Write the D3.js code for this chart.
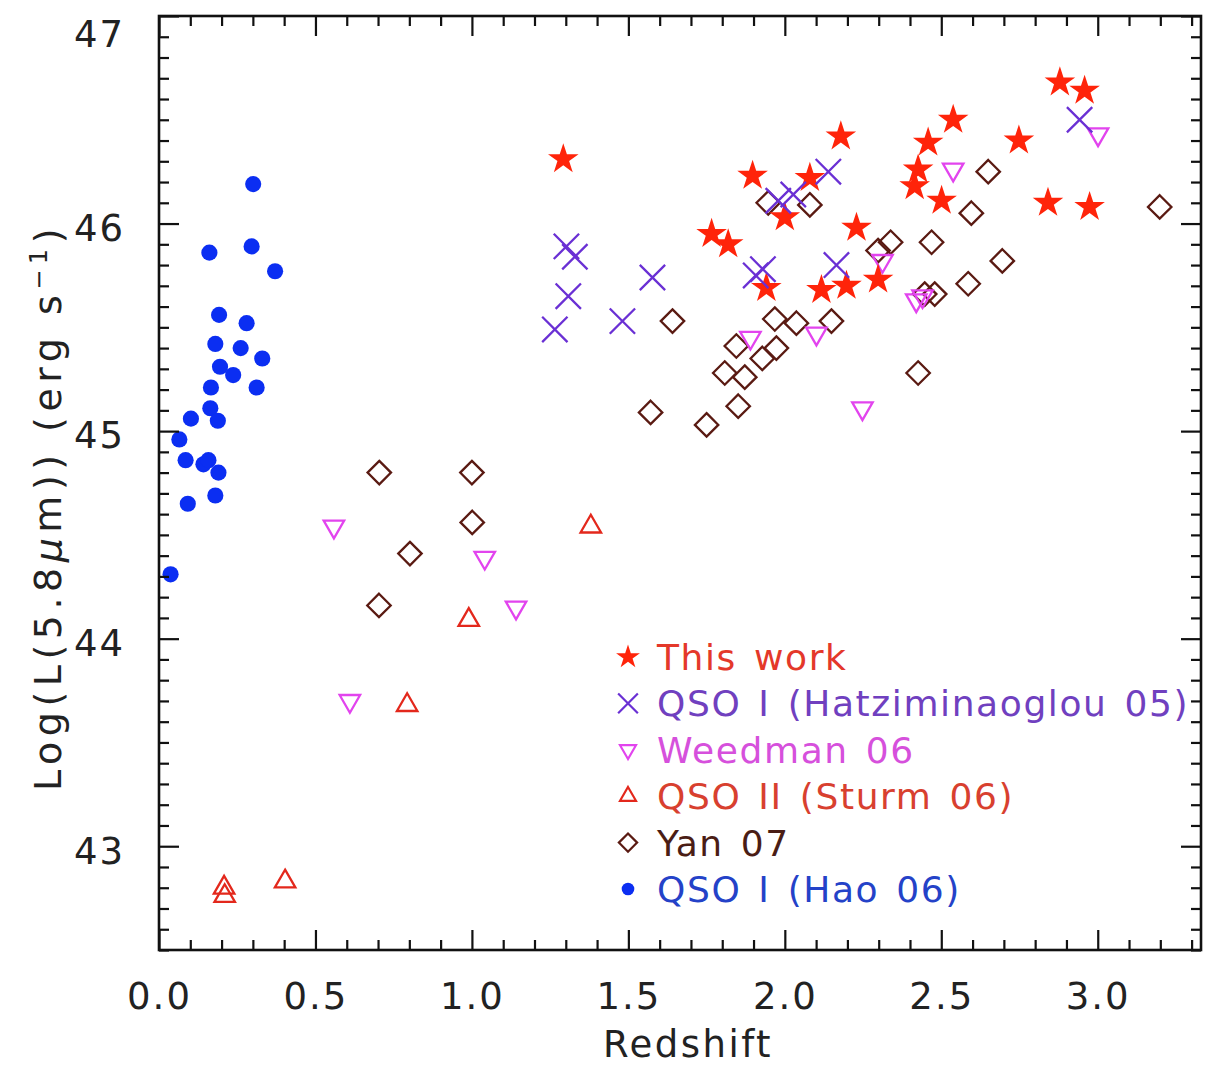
<!DOCTYPE html>
<html>
<head>
<meta charset="utf-8">
<script src="https://cdn.jsdelivr.net/npm/d3@7/dist/d3.min.js"></script>
<style>
  body { margin: 0; background: #fff; }
  text { font-family: "DejaVu Sans", sans-serif; }
</style>
</head>
<body>
<div id="chart"></div>
<script>
// [redshift, log L(5.8um)]
var thisWork = [[1.292,46.31],[1.766,45.95],[1.819,45.90],[1.897,46.23],[1.941,45.69],[2.000,46.03],
  [2.080,46.22],[2.117,45.68],[2.179,46.42],[2.197,45.70],[2.229,45.98],[2.298,45.73],[2.415,46.18],
  [2.426,46.26],[2.458,46.39],[2.501,46.11],[2.538,46.50],[2.748,46.40],[2.841,46.10],[2.879,46.68],
  [2.958,46.64],[2.974,46.08]];
var hatz05 = [[1.265,45.49],[1.302,45.89],[1.329,45.84],[1.308,45.65],[1.481,45.53],[1.577,45.74],
  [1.907,45.75],[1.930,45.78],[1.979,46.11],[2.027,46.14],[2.139,46.25],[2.165,45.80],[2.942,46.50]];
var weedman06 = [[0.559,44.54],[0.610,43.70],[1.041,44.39],[1.141,44.15],[1.890,45.45],[2.101,45.47],
  [2.248,45.11],[2.312,45.82],[2.420,45.63],[2.440,45.65],[2.538,46.26],[3.001,46.43]];
var sturm06 = [[0.208,42.80],[0.210,42.76],[0.403,42.83],[0.793,43.68],[0.990,44.09],[1.380,44.54]];
var yan07 = [[0.703,44.16],[0.704,44.80],[0.802,44.41],[1.000,44.80],[1.001,44.56],[1.571,45.09],
  [1.641,45.53],[1.750,45.03],[1.808,45.28],[1.845,45.41],[1.851,45.12],[1.872,45.26],[1.928,45.35],
  [1.947,46.10],[1.968,45.54],[1.973,45.40],[2.037,45.52],[2.080,46.09],[2.149,45.53],[2.298,45.87],
  [2.338,45.91],[2.426,45.28],[2.447,45.66],[2.469,45.91],[2.479,45.66],[2.586,45.71],[2.596,46.05],
  [2.650,46.25],[2.695,45.82],[3.198,46.08]];
var hao06 = [[0.301,46.19],[0.161,45.86],[0.296,45.89],[0.371,45.77],[0.192,45.56],[0.280,45.52],
  [0.180,45.42],[0.261,45.40],[0.330,45.35],[0.195,45.31],[0.237,45.27],[0.166,45.21],[0.312,45.21],
  [0.164,45.11],[0.188,45.05],[0.102,45.06],[0.065,44.96],[0.085,44.86],[0.142,44.84],[0.158,44.86],
  [0.190,44.80],[0.180,44.69],[0.092,44.65],[0.037,44.31]];

var xMajor = [0, 0.5, 1.0, 1.5, 2.0, 2.5, 3.0];
var yMajor = [43, 44, 45, 46, 47];

var legendLabels = ["This work", "QSO I (Hatziminaoglou 05)", "Weedman 06",
  "QSO II (Sturm 06)", "Yan 07", "QSO I (Hao 06)"];

var width = 1217, height = 1068;
var plotLeft = 159, plotRight = 1201, plotTop = 16, plotBottom = 950;

var svg = d3.select("#chart").append("svg")
    .attr("width", width)
    .attr("height", height)
    .style("background", "#fff");

var xScale = d3.scaleLinear().domain([0, 3.33]).range([plotLeft, plotRight]);
var yScale = d3.scaleLinear().domain([42.5, 47]).range([plotBottom, plotTop]);

var xMinor = d3.range(0, 3.331, 0.1).filter(function (v) { return Math.abs(v * 2 - Math.round(v * 2)) > 1e-6; });
var yMinor = d3.range(42.5, 47.001, 0.1).filter(function (v) { return Math.abs(v - Math.round(v)) > 1e-6; });

// series styles
var styles = {
    star:   { color: "#ff240a", text: "#e4382a" },
    times:  { color: "#6a30d4", text: "#7040bf" },
    tdown:  { color: "#e244ee", text: "#d650dc" },
    tup:    { color: "#e3281c", text: "#d8402f" },
    diam:   { color: "#5a1a12", text: "#4a1d15" },
    dot:    { color: "#0b2ef2", text: "#2442c8" }
};

function markPath(kind, k) {
    if (kind === "star") return d3.symbol().type(d3.symbolStar).size(290 * k * k)();
    if (kind === "times") return d3.symbol().type(d3.symbolTimes).size(420 * k * k)();
    if (kind === "tdown" || kind === "tup") return d3.symbol().type(d3.symbolTriangle2).size(300 * k * k)();
    if (kind === "diam") return d3.symbol().type(d3.symbolDiamond2).size(350 * k * k)();
    return d3.symbol().type(d3.symbolCircle).size(205 * k * k)();
}

function drawSeries(data, kind) {
    var st = styles[kind];
    var filled = (kind === "star" || kind === "dot");
    svg.append("g").selectAll("path")
        .data(data)
        .join("path")
        .attr("d", markPath(kind, 1))
        .attr("transform", function (d) {
            return "translate(" + xScale(d[0]) + "," + yScale(d[1]) + ")" + (kind === "tdown" ? " rotate(180)" : "");
        })
        .attr("fill", filled ? st.color : "none")
        .attr("stroke", filled ? "none" : st.color)
        .attr("stroke-width", 2.3);
}

drawSeries(yan07, "diam");
drawSeries(hao06, "dot");
drawSeries(sturm06, "tup");
drawSeries(weedman06, "tdown");
drawSeries(thisWork, "star");
drawSeries(hatz05, "times");

// axes, ticks pointing inward
function addAxis(axisFn, scale, major, minor, transform, labels) {
    var gMin = svg.append("g").attr("transform", transform)
        .call(axisFn(scale).tickValues(minor).tickSize(-10).tickFormat(""));
    var gMaj = svg.append("g").attr("transform", transform)
        .call(axisFn(scale).tickValues(major).tickSize(-20).tickPadding(33)
            .tickFormat(labels ? labels : ""));
    [gMin, gMaj].forEach(function (g) {
        g.select(".domain").remove();
        g.selectAll(".tick line").attr("stroke", "#111").attr("stroke-width", 2.2);
    });
    gMaj.selectAll("text")
        .attr("fill", "#222")
        .style("font-size", "37px")
        .style("letter-spacing", "2px");
    return gMaj;
}

addAxis(d3.axisBottom, xScale, xMajor, xMinor, "translate(0," + plotBottom + ")", d3.format(".1f"));
addAxis(d3.axisTop, xScale, xMajor, xMinor, "translate(0," + plotTop + ")", null);
var gy = addAxis(d3.axisLeft, yScale, yMajor, yMinor, "translate(" + plotLeft + ",0)", d3.format("d"));
gy.selectAll("text")
    .attr("dy", "0.32em")
    .attr("y", function (d) { return Math.max(5, plotTop + 19 - yScale(d)); })
    .attr("x", -34);
addAxis(d3.axisRight, yScale, yMajor, yMinor, "translate(" + plotRight + ",0)", null);

svg.append("rect")
    .attr("x", plotLeft).attr("y", plotTop)
    .attr("width", plotRight - plotLeft).attr("height", plotBottom - plotTop)
    .attr("fill", "none")
    .attr("stroke", "#111")
    .attr("stroke-width", 2.6);

// axis titles
svg.append("text")
    .attr("x", 688).attr("y", 1057)
    .attr("text-anchor", "middle")
    .attr("fill", "#222")
    .style("font-size", "37px")
    .style("letter-spacing", "2.5px")
    .text("Redshift");

var yt = svg.append("text")
    .attr("transform", "translate(61,507) rotate(-90)")
    .attr("text-anchor", "middle")
    .attr("fill", "#222")
    .style("font-size", "38px")
    .style("letter-spacing", "5.5px");
yt.append("tspan").text("Log(L(5.8");
yt.append("tspan").style("font-style", "italic").text("\u03bc");
yt.append("tspan").text("m)) (erg s");
yt.append("tspan").attr("dy", -14).style("font-size", "24px").text("\u22121");
yt.append("tspan").attr("dy", 14).text(")");

// legend
var legendKinds = ["star", "times", "tdown", "tup", "diam", "dot"];
var leg = svg.append("g");
legendKinds.forEach(function (kind, i) {
    var yy = 657 + i * 46.4;
    var st = styles[kind];
    var filled = (kind === "star" || kind === "dot");
    leg.append("path")
        .attr("d", markPath(kind, 0.78))
        .attr("transform", "translate(628," + yy + ")" + (kind === "tdown" ? " rotate(180)" : ""))
        .attr("fill", filled ? st.color : "none")
        .attr("stroke", filled ? "none" : st.color)
        .attr("stroke-width", 2.2);
    leg.append("text")
        .attr("x", 657).attr("y", yy)
        .attr("dy", "0.36em")
        .attr("fill", st.text)
        .style("font-size", "36px")
        .style("letter-spacing", "1.6px")
        .style("word-spacing", "4px")
        .text(legendLabels[i]);
});
</script>
</body>
</html>
